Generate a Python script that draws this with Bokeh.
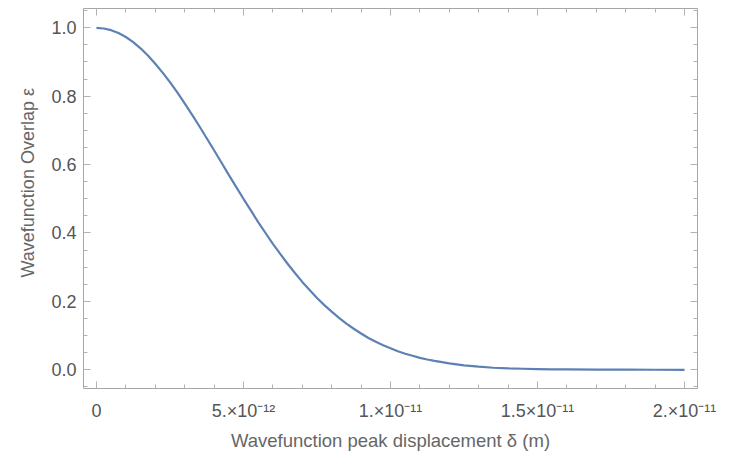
from bokeh.plotting import figure
from bokeh.models import LinearAxis, FixedTicker, Range1d, PrintfTickFormatter, Title
from bokeh.embed import file_html
from bokeh.resources import INLINE

# displacement in units of 1e-12 m
displacement = [0, 0.25, 0.5, 0.75, 1, 1.25, 1.5, 1.75, 2, 2.25, 2.5, 2.75, 3, 3.25, 3.5,
                3.75, 4, 4.25, 4.5, 4.75, 5, 5.25, 5.5, 5.75, 6, 6.25, 6.5, 6.75, 7, 7.25,
                7.5, 7.75, 8, 8.25, 8.5, 8.75, 9, 9.25, 9.5, 9.75, 10, 10.25, 10.5, 10.75,
                11, 11.25, 11.5, 12, 12.5, 13, 13.5, 14, 14.5, 15, 15.5, 16, 17, 18, 19, 20]
overlap = [1.000, 0.998, 0.993, 0.985, 0.973, 0.958, 0.940, 0.919, 0.895, 0.869, 0.841,
           0.811, 0.779, 0.746, 0.712, 0.677, 0.642, 0.606, 0.570, 0.535, 0.500, 0.466,
           0.432, 0.400, 0.368, 0.339, 0.310, 0.283, 0.257, 0.233, 0.210, 0.189, 0.170,
           0.152, 0.135, 0.120, 0.106, 0.093, 0.082, 0.072, 0.063, 0.054, 0.047, 0.041,
           0.035, 0.030, 0.026, 0.019, 0.013, 0.009, 0.006, 0.004, 0.003, 0.002, 0.001,
           0.001, 0.0005, 0.0002, 0.0001, 0.0]

x_ticks = [0, 5, 10, 15, 20]
x_tick_labels = ["0", "5.×10⁻¹²", "1.×10⁻¹¹", "1.5×10⁻¹¹", "2.×10⁻¹¹"]
y_ticks = [0.0, 0.2, 0.4, 0.6, 0.8, 1.0]
x_minor = list(range(0, 21))
y_minor = [round(-0.05 + 0.05 * i, 2) for i in range(23)]
x_title = "Wavefunction peak displacement δ (m)"
y_title = "Wavefunction Overlap ε"

FONT = "Liberation Sans"
FRAME = "#a6a6a6"
TICK = "#b3b3b3"
TXT = "#555555"
TITLE = "#666666"

p = figure(width=738, height=462, output_backend="svg", toolbar_location=None,
           x_range=Range1d(-0.44, 20.44), y_range=Range1d(-0.0547, 1.0564),
           min_border_left=83, min_border_right=41, min_border_top=8, min_border_bottom=74,
           background_fill_color="white", border_fill_color="white")
p.outline_line_color = None
p.xgrid.visible = False
p.ygrid.visible = False

p.line(displacement, overlap, line_color="#5e81b5", line_width=2.2)

def style(ax, ticks, minor, labels=True):
    ax.ticker = FixedTicker(ticks=ticks, minor_ticks=minor)
    ax.axis_line_color = FRAME
    ax.major_tick_line_color = TICK
    ax.minor_tick_line_color = TICK
    ax.major_tick_in = 7
    ax.major_tick_out = 0
    ax.minor_tick_in = 4
    ax.minor_tick_out = 0
    if labels:
        ax.major_label_text_font = FONT
        ax.major_label_text_font_size = "18px"
        ax.major_label_text_color = TXT
        ax.axis_label_text_font = FONT
        ax.axis_label_text_font_size = "18.5px"
        ax.axis_label_text_color = TITLE
        ax.axis_label_text_font_style = "normal"
    else:
        ax.major_label_overrides = {t: "" for t in ticks}
        ax.major_label_standoff = 0

xa = p.xaxis[0]
style(xa, x_ticks, x_minor)
xa.major_label_overrides = {t: l for t, l in zip(x_ticks, x_tick_labels)}
xa.major_label_standoff = 12
xa.axis_label = x_title
xa.axis_label_standoff = 6

ya = p.yaxis[0]
style(ya, y_ticks, y_minor)
ya.formatter = PrintfTickFormatter(format="%.1f")
ya.major_label_standoff = 7

top = LinearAxis()
style(top, x_ticks, x_minor, labels=False)
p.add_layout(top, "above")
right = LinearAxis()
style(right, y_ticks, y_minor, labels=False)
p.add_layout(right, "right")

ytitle = Title(text=y_title, align="left", offset=111, standoff=21,
               text_font=FONT, text_font_size="18px", text_color=TITLE,
               text_font_style="normal")
p.add_layout(ytitle, "left")

open("out.html", "w").write(file_html(p, INLINE))
